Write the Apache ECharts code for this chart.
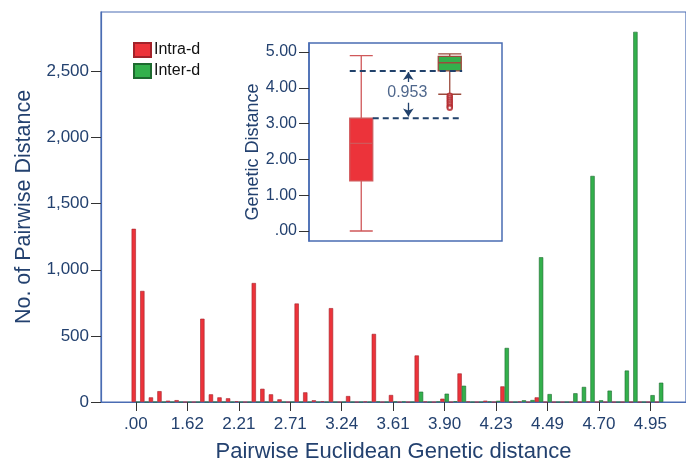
<!DOCTYPE html>
<html><head><meta charset="utf-8">
<script src="https://cdn.jsdelivr.net/npm/echarts@6/dist/echarts.min.js"></script>
<style>html,body{margin:0;padding:0;background:#fff}#c{width:686px;height:468px}</style>
</head><body><div id="c"></div>
<script>
// ---- data ----
const binIndex = [0,1,2,3,4,5,6,7,8,9,10,11,12,13,14,15,16,17,18,19,20,21,22,23,24,25,26,27,28,29,30,31,32,33,34,35,36,37,38,39,40,41,42,43,44,45,46,47,48,49,50,51,52,53,54,55,56,57,58,59,60,61];
const intraD = [1310,840,35,82,10,14,0,0,630,58,35,28,5,0,900,100,58,20,0,745,73,13,5,710,0,45,0,3,515,0,53,0,0,352,3,0,25,0,216,3,0,10,0,118,0,3,0,35,0,0,0,0,0,3,0,0,0,0,0,0,0,0];
const interD = [0,0,0,0,0,0,0,0,0,0,0,0,0,0,0,0,0,0,0,0,0,0,0,0,0,0,0,0,3,0,3,3,0,78,0,3,63,5,123,0,0,3,9,409,0,13,15,1095,60,0,0,66,114,1710,13,86,0,238,2800,0,52,146];
const tickBins = [0,6,12,18,24,30,36,42,48,54,60];
const tickLabels = ['.00','1.62','2.21','2.71','3.24','3.61','3.90','4.23','4.49','4.70','4.95'];
const yTicks = [0,500,1000,1500,2000,2500];
const boxCategories = ['Intra-d','Inter-d'];
const boxStats = [[0,1.40,2.45,3.15,4.90],[3.82,4.47,4.70,4.88,4.95]];
const outliers = [3.78,3.72,3.66,3.60,3.54,3.48,3.44];
const insetTicks = [0,1,2,3,4,5];
const upperGapLine = [[-0.13,4.47],[1.14,4.47]];
const lowerGapLine = [[0.13,3.15],[1.14,3.15]];
const upArrow = [[0.532,4.16],[0.532,4.44]];
const downArrow = [[0.532,3.58],[0.532,3.20]];
const gapLabel = {x:0.52, y:3.87, text:'0.953'};

// ---- styles ----
const FONT = "'Liberation Sans', Arial, sans-serif";
const NAVY = '#23416f';
const FRAME = '#4a6cb3';
const RED = '#ec333a', GREEN = '#33b04c';
const ANN = '#21416b';

const chart = echarts.init(document.getElementById('c'), null, {renderer:'canvas'});
const fmt = v => v === 0 ? '0' : v.toLocaleString('en-US');
const insetFmt = v => v === 0 ? '.00' : v.toFixed(2);

chart.setOption({
  animation:false,
  backgroundColor:'#fff',
  textStyle:{fontFamily:FONT},
  legend:{
    data:['Intra-d','Inter-d'], orient:'vertical', left:128, top:37,
    itemWidth:17, itemHeight:14, itemGap:5, icon:'rect',
    textStyle:{fontSize:16, color:'#111', fontFamily:FONT, padding:[0,0,0,-2]}
  },
  grid:[
    {left:101, top:12, right:-2, bottom:64, show:true, borderColor:FRAME, borderWidth:1.2, backgroundColor:'transparent'},
    {left:309, top:43, width:193, height:198, show:true, borderColor:FRAME, borderWidth:1.5, backgroundColor:'#fff'},
    {left:317, top:43, width:177, height:198}
  ],
  xAxis:[
    {type:'value', gridIndex:0, min:-4.07, max:64.15,
     name:'Pairwise Euclidean Genetic distance', nameLocation:'middle', nameGap:39,
     nameTextStyle:{fontSize:22, color:NAVY, fontFamily:FONT},
     axisLine:{onZero:false, lineStyle:{color:FRAME, width:1.2}},
     axisTick:{show:true, length:9, lineStyle:{color:'#333'}, customValues:tickBins},
     axisLabel:{fontSize:17, color:NAVY, margin:14, customValues:tickBins,
       formatter:v => tickLabels[tickBins.indexOf(v)] ?? ''},
     splitLine:{show:false}},
    {type:'value', gridIndex:1, min:0, max:1, show:false},
    {type:'category', gridIndex:2, data:boxCategories, show:false},
    {type:'value', gridIndex:2, min:-0.5, max:1.5, show:false}
  ],
  yAxis:[
    {type:'value', gridIndex:0, min:0, max:2950,
     name:'No. of Pairwise Distance', nameLocation:'middle', nameGap:66,
     nameTextStyle:{fontSize:21.5, color:NAVY, fontFamily:FONT},
     axisLine:{show:true, onZero:false, lineStyle:{color:FRAME, width:1.2}},
     axisTick:{show:true, length:10, lineStyle:{color:'#333'}, customValues:yTicks},
     axisLabel:{fontSize:17, color:NAVY, margin:12, customValues:yTicks, formatter:fmt},
     splitLine:{show:false}},
    {type:'value', gridIndex:1, min:-0.279, max:5.251,
     name:'Genetic Distance', nameLocation:'middle', nameGap:44,
     nameTextStyle:{fontSize:18, color:NAVY, fontFamily:FONT, padding:[0,20,0,0]},
     axisLine:{show:true, onZero:false, lineStyle:{color:FRAME, width:1.5}},
     axisTick:{show:true, length:10, lineStyle:{color:'#333'}, customValues:insetTicks},
     axisLabel:{fontSize:16, color:NAVY, margin:12, customValues:insetTicks, formatter:insetFmt},
     splitLine:{show:false}},
    {type:'value', gridIndex:2, min:-0.279, max:5.251, show:false}
  ],
  series:[
    {name:'Intra-d', type:'bar', xAxisIndex:0, yAxisIndex:0, barWidth:4.3, barGap:'0%',
     itemStyle:{color:RED, borderColor:'#a3222a', borderWidth:0.6},
     data:binIndex.map((b,i)=>[b,intraD[i]])},
    {name:'Inter-d', type:'bar', xAxisIndex:0, yAxisIndex:0, barWidth:4.3, barGap:'0%',
     itemStyle:{color:GREEN, borderColor:'#1d6a2f', borderWidth:0.6},
     data:binIndex.map((b,i)=>[b,interD[i]])},
    {name:'box', type:'boxplot', xAxisIndex:2, yAxisIndex:2, boxWidth:[23,23],
     data:[
       {value:boxStats[0], itemStyle:{color:RED, borderColor:'#d0585a', borderWidth:1.3}},
       {value:boxStats[1], itemStyle:{color:GREEN, borderColor:'#9b4a3c', borderWidth:1.3}}
     ], z:3},
    {name:'outliers', type:'scatter', xAxisIndex:2, yAxisIndex:2, symbol:'emptyCircle', symbolSize:4.5,
     itemStyle:{color:'#b3262a', borderWidth:1.2}, data:outliers.map(v=>[1,v]), z:4},
    {name:'gapU', type:'line', xAxisIndex:3, yAxisIndex:2, symbol:'none', data:upperGapLine,
     lineStyle:{color:ANN, width:2, type:[6,4]}, z:5},
    {name:'gapL', type:'line', xAxisIndex:3, yAxisIndex:2, symbol:'none', data:lowerGapLine,
     lineStyle:{color:ANN, width:2, type:[6,4]}, z:5},
    {name:'arrows', type:'lines', coordinateSystem:'cartesian2d', xAxisIndex:3, yAxisIndex:2,
     symbol:['none','arrow'], symbolSize:8,
     lineStyle:{color:ANN, width:1.3, opacity:1},
     data:[{coords:upArrow},{coords:downArrow}], z:5},
    {name:'gapText', type:'scatter', xAxisIndex:3, yAxisIndex:2, symbolSize:0,
     data:[[gapLabel.x, gapLabel.y]],
     label:{show:true, position:'inside', formatter:gapLabel.text, fontSize:16, color:NAVY, fontFamily:FONT}, z:6}
  ]
});
</script></body></html>
